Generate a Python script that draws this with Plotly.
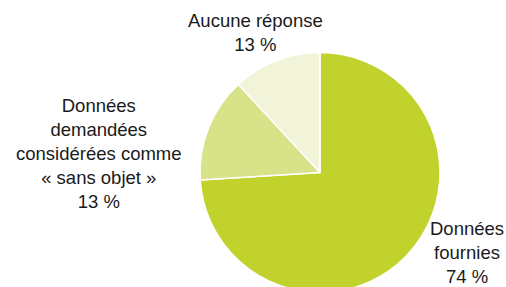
import plotly.graph_objects as go

# Data
labels = ["Données<br>fournies", "Données<br>demandées<br>considérées comme<br>« sans objet »", "Aucune réponse"]
values = [74.0, 14.1, 11.9]          # shares as drawn in the pie
pct_labels = ["74 %", "13 %", "13 %"]  # percentages as printed
colors = ["#c0d22b", "#d8e289", "#f2f4d9"]

W, H = 506, 300
fig = go.Figure()
fig.add_trace(go.Pie(
    labels=labels,
    values=values,
    sort=False,
    direction="clockwise",
    rotation=0,
    marker=dict(colors=colors, line=dict(color="white", width=1.5)),
    textinfo="none",
    hoverinfo="label",
    showlegend=False,
    domain=dict(x=[200 / W, 440 / W], y=[(H - 292.5) / H, (H - 52.5) / H]),
))

# label positions (pixel centers from top-left)
label_pos = [(467, 252), (99, 153), (255, 33)]
for lab, pct, (px, py) in zip(labels, pct_labels, label_pos):
    fig.add_annotation(
        text=f"{lab}<br>{pct}",
        x=px / W, y=(H - py) / H, xref="paper", yref="paper",
        xanchor="center", yanchor="middle", showarrow=False, align="center",
        font=dict(family="Liberation Sans, Arial, sans-serif", size=18.5, color="#1a1a1a"),
    )

fig.update_layout(
    width=W, height=H,
    margin=dict(l=0, r=0, t=0, b=0),
    paper_bgcolor="white", plot_bgcolor="white",
)
fig.write_html(
    "out.html",
    config={"displayModeBar": False},
    post_script="document.body.style.margin='0';document.body.style.overflow='hidden';",
)
